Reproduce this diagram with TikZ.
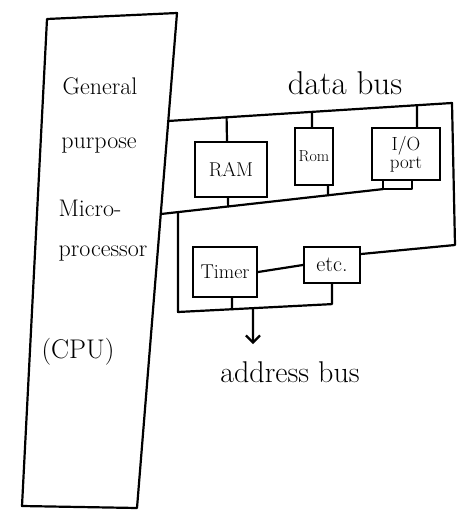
\documentclass[tikz,border=0pt]{standalone}
\usepackage{fontspec}
\usetikzlibrary{arrows.meta,calc}
\begin{document}
\begin{tikzpicture}[x=1pt,y=-1pt,
  wire/.style={line width=2.2pt, line cap=round, line join=round},
  unit/.style={draw, line width=2.2pt, inner sep=0pt, align=center},
  lbl/.style={inner sep=0pt, align=center},
  cputxt/.style={lbl, font=\fontsize{24}{26}\selectfont}]
\useasboundingbox (0,0) rectangle (457,511);

% CPU outline
\coordinate (cpuTL) at (47,19);
\coordinate (cpuTR) at (177,13);
\coordinate (cpuBR) at (137,508);
\coordinate (cpuBL) at (22,506);
\draw[wire] (cpuTL) -- (cpuTR) -- (cpuBR) -- (cpuBL) -- cycle;

\node[cputxt] (tG) at (100,86) {General};
\node[cputxt] (tP) at (99,146) {purpose};
\node[cputxt] (tM) at (90,208) {Micro-};
\node[cputxt] (tR) at (103,254) {processor};
\node[cputxt, font=\fontsize{27}{29}\selectfont] (tC) at (78,352) {(CPU)};

% units
\node[unit, minimum width=72pt, minimum height=55pt, font=\fontsize{20}{22}\selectfont] (ram) at (231,169.5) {RAM};
\node[unit, minimum width=38pt, minimum height=57pt, font=\fontsize{16}{18}\selectfont] (rom) at (314,156.5) {Rom};
\node[unit, minimum width=68pt, minimum height=52pt, font=\fontsize{19}{18}\selectfont] (io) at (406,154) {I/O\\port};
\node[unit, minimum width=64pt, minimum height=50pt, font=\fontsize{20}{22}\selectfont] (timer) at (225,272) {Timer};
\node[unit, minimum width=56pt, minimum height=36pt, font=\fontsize{22}{24}\selectfont] (etc) at (332,265) {etc.};

% bus labels
\node[lbl, font=\fontsize{33}{35}\selectfont] (dbus) at (345,83) {data bus};
\node[lbl, font=\fontsize{30}{32}\selectfont] (abus) at (290,372) {address bus};

% data bus (top line, right side, link to etc.)
\coordinate (dbL) at (168,121);
\coordinate (dbR) at (452,103);
\coordinate (rvB) at (455,245);
\draw[wire] (dbL) -- (dbR) -- (rvB) -- (etc.east |- 0,254);

% lower data bus line
\coordinate (bbL) at (161,214);
\coordinate (ioL) at ($(io.south)+(-23,0)$);
\coordinate (ioR) at ($(io.south)+(6,0)$);
\coordinate (bbR) at ($(ioL)+(0,8)$);
\draw[wire] (bbL) -- (bbR);
\draw[wire] (ioL) -- (bbR) -- ($(ioR)+(0,8)$) -- (ioR);

% RAM links
\coordinate (ramU) at ($(ram.north)+(-4,0)$);
\coordinate (ramD) at ($(ram.south)+(-3,0)$);
\draw[wire] (ramU) -- (intersection of dbL--dbR and ramU--ramD);
\draw[wire] (ramD) -- (intersection of bbL--bbR and ramU--ramD);

% ROM links
\coordinate (romU) at ($(rom.north)+(-2,0)$);
\coordinate (romUb) at ($(rom.south)+(-2,0)$);
\draw[wire] (romU) -- (intersection of dbL--dbR and romU--romUb);
\coordinate (romD) at ($(rom.south)+(14,0)$);
\coordinate (romDb) at ($(rom.north)+(14,0)$);
\draw[wire] (romD) -- (intersection of bbL--bbR and romD--romDb);

% I/O link to top bus
\coordinate (ioU) at ($(io.north)+(11,0)$);
\coordinate (ioUb) at ($(io.south)+(11,0)$);
\draw[wire] (ioU) -- (intersection of dbL--dbR and ioU--ioUb);

% address bus
\coordinate (abU) at (178,200);
\coordinate (abL) at (178,312);
\coordinate (abR) at ($(etc.south)+(0,20)$);
\draw[wire] (intersection of bbL--bbR and abU--abL) -- (abL) -- (abR) -- (etc.south);
\coordinate (tmD) at ($(timer.south)+(7,0)$);
\coordinate (tmU) at ($(timer.north)+(7,0)$);
\draw[wire] (tmD) -- (intersection of abL--abR and tmD--tmU);
\draw[wire] (timer.east) -- (etc.west);

% arrow to address bus label
\coordinate (arTop) at (253,250);
\coordinate (arEnd) at (253,344);
\draw[wire, -{Straight Barb[length=7pt,width=14pt]}] (intersection of abL--abR and arTop--arEnd) -- (arEnd);
\end{tikzpicture}
\end{document}
